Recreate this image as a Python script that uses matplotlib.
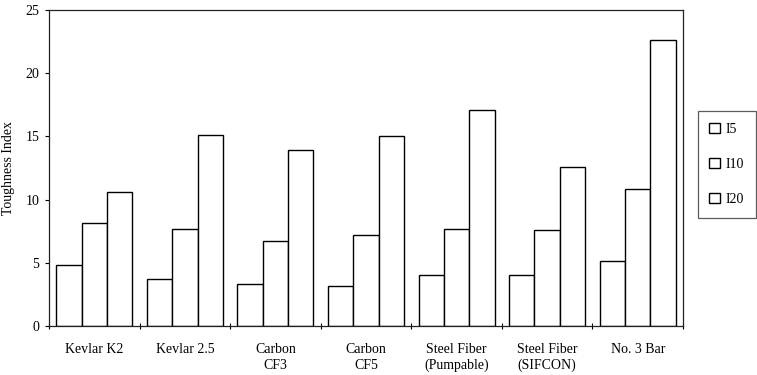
import matplotlib
matplotlib.use("Agg")
import matplotlib.pyplot as plt
import numpy as np

categories = ["Kevlar K2", "Kevlar 2.5", "Carbon\nCF3", "Carbon\nCF5",
              "Steel Fiber\n(Pumpable)", "Steel Fiber\n(SIFCON)", "No. 3 Bar"]
series_names = ["I5", "I10", "I20"]
i5 = [4.8, 3.75, 3.35, 3.15, 4.0, 4.0, 5.15]
i10 = [8.15, 7.65, 6.7, 7.2, 7.7, 7.6, 10.85]
i20 = [10.6, 15.1, 13.9, 15.0, 17.1, 12.6, 22.6]
yticks = [0, 5, 10, 15, 20, 25]

plt.rcParams['font.family'] = ['Liberation Serif', 'DejaVu Serif']
plt.rcParams['font.size'] = 10

W, H = 757, 375
fig = plt.figure(figsize=(W / 100, H / 100), dpi=100)
ax = fig.add_axes([49 / W, 1 - 326 / H, 634 / W, 316 / H])

x = np.arange(len(categories))
w = 0.28
for j, (name, vals) in enumerate(zip(series_names, [i5, i10, i20])):
    ax.bar(x + (j - 1) * w, vals, width=w, color="white", edgecolor="black",
           linewidth=1.0, label=name, zorder=2)

ax.set_xlim(-0.5, len(categories) - 0.5)
ax.set_ylim(0, 25)
ax.set_yticks(yticks)
ax.set_yticklabels([str(v) for v in yticks])
ax.tick_params(axis='y', length=3, width=0.8, pad=4, direction='out')

# group boundary ticks, labels at group centres
ax.set_xticks(np.arange(len(categories) + 1) - 0.5)
ax.set_xticklabels([])
ax.tick_params(axis='x', which='major', length=4, width=0.8, direction='inout')
ax.set_xticks(x, minor=True)
ax.set_xticklabels(categories, minor=True, linespacing=1.3)
ax.tick_params(axis='x', which='minor', length=0, pad=12)

for s in ax.spines.values():
    s.set_linewidth(0.9)
    s.set_color("#222222")

ax.set_ylabel("Toughness Index")
ax.yaxis.set_label_coords((15 - 49) / 634, 0.5)

leg = fig.legend(loc="upper right", bbox_to_anchor=(755.5 / W, 1 - 111 / H),
                 frameon=True, fancybox=False, edgecolor="#333333",
                 handlelength=0.75, handleheight=0.75, handletextpad=0.4,
                 labelspacing=1.6, borderpad=0.85, borderaxespad=0)
leg.get_frame().set_linewidth(0.9)

fig.savefig("out.png", dpi=100)
